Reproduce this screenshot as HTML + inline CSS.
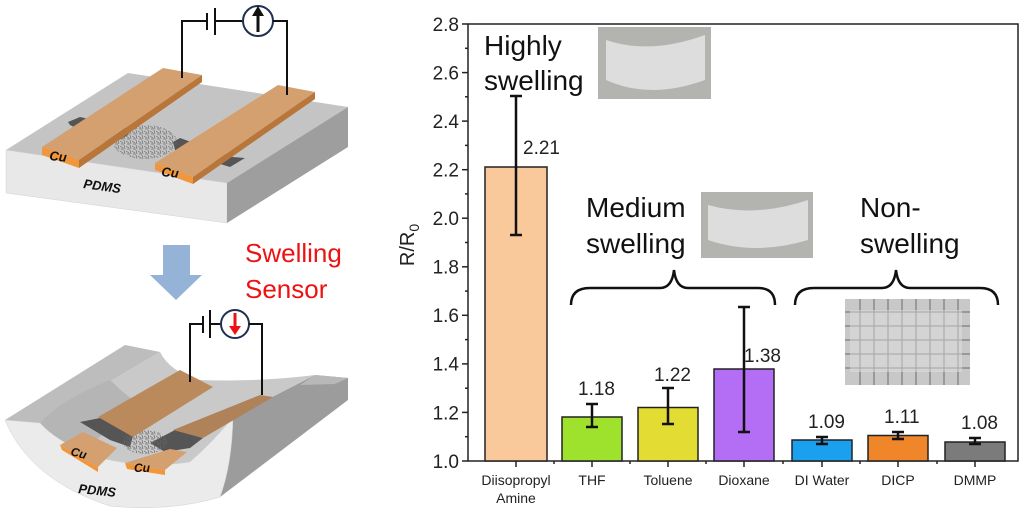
<!DOCTYPE html>
<html><head><meta charset="utf-8"><style>
html,body{margin:0;padding:0;background:#fff;}
body{width:1024px;height:513px;overflow:hidden;position:relative;font-family:"Liberation Sans",sans-serif;}
</style></head><body>
<svg width="1024" height="513" viewBox="0 0 1024 513" xmlns="http://www.w3.org/2000/svg" font-family="Liberation Sans, sans-serif">
<defs>
<pattern id="nw" width="6" height="5" patternUnits="userSpaceOnUse">
<path d="M0,1 L3,3 M4,0 L5,4 M1,4 L4,4" stroke="#666" stroke-width="0.7"/>
</pattern>
</defs>
<!-- TOP SLAB -->
<polygon points="6,150 128,73 348,107 227,183" fill="#c4c4c4"/>
<polygon points="6,150 227,183 227,223 6,193" fill="#e8e8e8" stroke="#d0d0d0" stroke-width="0.5"/>
<polygon points="227,183 348,107 348,147 227,223" fill="#9e9e9e"/>
<!-- electrodes dark -->
<polygon points="68,122 80,117 125,127 128,135 110,145 100,140 70,125" fill="#555"/>
<polygon points="173,142 180,138 233,157 245,158 230,167 175,150" fill="#555"/>
<!-- nanowires -->
<ellipse cx="145" cy="142" rx="32" ry="17" fill="url(#nw)" opacity="0.9"/>
<!-- copper strips -->
<polygon points="42,147 163,68 202,75 79,160" fill="#d4a070"/>
<polygon points="42,147 79,160 79,168 42,155" fill="#f0963c"/>
<polygon points="79,160 202,75 202,82 79,168" fill="#b9763a"/>
<polygon points="155,163 278,85 315,92 193,177" fill="#d4a070"/>
<polygon points="155,163 193,177 193,184 155,170" fill="#f0963c"/>
<polygon points="193,177 315,92 315,99 193,184" fill="#b9763a"/>
<text x="49" y="160" font-size="13" font-weight="bold" font-style="italic" fill="#111" transform="rotate(6 49 160)">Cu</text>
<text x="161" y="176" font-size="13" font-weight="bold" font-style="italic" fill="#111" transform="rotate(6 161 176)">Cu</text>
<text x="83" y="188" font-size="13" font-weight="bold" font-style="italic" fill="#111" transform="rotate(8 83 188)">PDMS</text>
<!-- top circuit -->
<polyline points="182,78 182,21 207,21" fill="none" stroke="#111" stroke-width="2"/>
<line x1="207" y1="13" x2="207" y2="30" stroke="#111" stroke-width="2"/>
<line x1="215" y1="8" x2="215" y2="35" stroke="#111" stroke-width="2"/>
<polyline points="215,21 243,21" fill="none" stroke="#111" stroke-width="2"/>
<circle cx="258" cy="21" r="15" fill="#fff" stroke="#1f3050" stroke-width="2"/>
<polyline points="273,21 287,21 287,95" fill="none" stroke="#111" stroke-width="2"/>
<line x1="258" y1="32" x2="258" y2="14" stroke="#111" stroke-width="3"/>
<polygon points="252,16 264,16 258,6" fill="#111"/>
<!-- arrow -->
<polygon points="163,245 190,245 190,275 202,275 176,300 150,275 163,275" fill="#95b3d7"/>
<text x="245" y="262" font-size="26" fill="#ee1111">Swelling</text>
<text x="245" y="298" font-size="26" fill="#ee1111">Sensor</text>
<!-- BOTTOM CURVED -->
<!-- right side dark face -->
<polygon points="233,417 315,375 348,378 348,400 220,497" fill="#9c9c9c"/>
<polygon points="315,375 348,378 335,384 300,385" fill="#b8b8b8"/>
<!-- left rim -->
<polygon points="5,420 125,345 160,352 40,423" fill="#bdbdbd"/>
<!-- trough -->
<path d="M40,423 L160,352 Q170,372 200,380 Q260,382 315,375 L233,417 Q215,440 190,462 Q140,470 90,455 Q55,440 40,423 Z" fill="#c9c9c9"/>
<path d="M40,423 Q60,400 110,380 Q130,400 150,410 Q100,430 85,452 Q55,440 40,423 Z" fill="#b5b5b5"/>
<!-- front face -->
<path d="M5,420 L40,423 Q55,440 90,455 Q140,470 190,462 Q215,440 233,417 Q232,465 220,497 Q170,512 110,506 Q30,480 5,420 Z" fill="#ebebeb" stroke="#d0d0d0" stroke-width="0.5"/>
<!-- bottom electrodes -->
<polygon points="80,422 100,418 133,436 130,447 110,440" fill="#555"/>
<polygon points="150,443 175,430 203,438 190,448 165,452" fill="#555"/>
<ellipse cx="145" cy="442" rx="22" ry="12" fill="url(#nw)"/>
<polygon points="98,417 180,370 213,387 133,437" fill="#ba8a5c"/>
<polygon points="173,430 260,395 273,397 203,438" fill="#b0825a"/>
<polygon points="60,445 83,432 117,448 98,467" fill="#d4a070"/>
<polygon points="60,445 98,467 98,472 62,450" fill="#f0963c"/>
<polygon points="125,463 170,449 187,452 165,470" fill="#d4a070"/>
<polygon points="125,463 165,470 165,475 127,469" fill="#f0963c"/>
<text x="70" y="455" font-size="12" font-weight="bold" font-style="italic" fill="#111" transform="rotate(15 70 455)">Cu</text>
<text x="134" y="472" font-size="12" font-weight="bold" font-style="italic" fill="#111">Cu</text>
<text x="78" y="493" font-size="13" font-weight="bold" font-style="italic" fill="#111" transform="rotate(6 78 493)">PDMS</text>
<!-- bottom circuit -->
<polyline points="190,382 190,324 203,324" fill="none" stroke="#111" stroke-width="2"/>
<line x1="203" y1="316" x2="203" y2="333" stroke="#111" stroke-width="2"/>
<line x1="210" y1="310" x2="210" y2="338" stroke="#111" stroke-width="2"/>
<polyline points="210,324 221,324" fill="none" stroke="#111" stroke-width="2"/>
<circle cx="235" cy="324" r="14" fill="#fff" stroke="#1f3050" stroke-width="2"/>
<polyline points="249,324 262,324 262,395" fill="none" stroke="#111" stroke-width="2"/>
<line x1="235" y1="313" x2="235" y2="328" stroke="#ee1111" stroke-width="3"/>
<polygon points="229,326 241,326 235,335" fill="#ee1111"/>

<!-- CHART -->
<rect x="468" y="24" width="550" height="437" fill="none" stroke="#222" stroke-width="1.5"/>
<g stroke="#222" stroke-width="1.5">
<line x1="462" y1="461" x2="468" y2="461"/><line x1="462" y1="412.4" x2="468" y2="412.4"/><line x1="462" y1="363.9" x2="468" y2="363.9"/><line x1="462" y1="315.3" x2="468" y2="315.3"/><line x1="462" y1="266.8" x2="468" y2="266.8"/><line x1="462" y1="218.2" x2="468" y2="218.2"/><line x1="462" y1="169.7" x2="468" y2="169.7"/><line x1="462" y1="121.1" x2="468" y2="121.1"/><line x1="462" y1="72.6" x2="468" y2="72.6"/><line x1="462" y1="24" x2="468" y2="24"/>
<line x1="465" y1="436.7" x2="468" y2="436.7"/><line x1="465" y1="388.2" x2="468" y2="388.2"/><line x1="465" y1="339.6" x2="468" y2="339.6"/><line x1="465" y1="291.1" x2="468" y2="291.1"/><line x1="465" y1="242.5" x2="468" y2="242.5"/><line x1="465" y1="193.9" x2="468" y2="193.9"/><line x1="465" y1="145.4" x2="468" y2="145.4"/><line x1="465" y1="96.8" x2="468" y2="96.8"/><line x1="465" y1="48.3" x2="468" y2="48.3"/>
<line x1="516" y1="461" x2="516" y2="467"/><line x1="592" y1="461" x2="592" y2="467"/><line x1="668" y1="461" x2="668" y2="467"/><line x1="744" y1="461" x2="744" y2="467"/><line x1="822" y1="461" x2="822" y2="467"/><line x1="898" y1="461" x2="898" y2="467"/><line x1="975" y1="461" x2="975" y2="467"/>
<line x1="554" y1="461" x2="554" y2="464"/><line x1="630" y1="461" x2="630" y2="464"/><line x1="706" y1="461" x2="706" y2="464"/><line x1="783" y1="461" x2="783" y2="464"/><line x1="860" y1="461" x2="860" y2="464"/><line x1="937" y1="461" x2="937" y2="464"/>
</g>
<g font-size="19" fill="#222" text-anchor="end">
<text x="459" y="468">1.0</text><text x="459" y="419.4">1.2</text><text x="459" y="370.3">1.4</text><text x="459" y="322">1.6</text><text x="459" y="273.5">1.8</text><text x="459" y="225">2.0</text><text x="459" y="176.5">2.2</text><text x="459" y="128">2.4</text><text x="459" y="79.5">2.6</text><text x="459" y="31">2.8</text>
</g>
<text x="414" y="245" font-size="20" fill="#222" transform="rotate(-90 414 245)" text-anchor="middle">R/R<tspan font-size="14" dy="5">0</tspan></text>
<!-- bars -->
<g stroke="#222" stroke-width="1.5">
<rect x="485" y="167" width="62" height="294" fill="#f9c89b"/>
<rect x="562" y="417" width="60" height="44" fill="#9fe22e"/>
<rect x="638" y="407.5" width="60" height="53.5" fill="#e3dc33"/>
<rect x="714" y="369" width="60" height="92" fill="#b46ef5"/>
<rect x="792" y="440" width="60" height="21" fill="#1ba0f0"/>
<rect x="868" y="435.5" width="60" height="25.5" fill="#f0862a"/>
<rect x="945" y="442" width="60" height="19" fill="#7b7b7b"/>
</g>
<g stroke="#111" stroke-width="2.5">
<line x1="516" y1="96" x2="516" y2="235"/><line x1="510" y1="96" x2="522" y2="96"/><line x1="510" y1="235" x2="522" y2="235"/>
<line x1="592" y1="404" x2="592" y2="427"/><line x1="586" y1="404" x2="598" y2="404"/><line x1="586" y1="427" x2="598" y2="427"/>
<line x1="668" y1="388" x2="668" y2="424"/><line x1="662" y1="388" x2="674" y2="388"/><line x1="662" y1="424" x2="674" y2="424"/>
<line x1="744" y1="307" x2="744" y2="432"/><line x1="738" y1="307" x2="750" y2="307"/><line x1="738" y1="432" x2="750" y2="432"/>
<line x1="822" y1="437" x2="822" y2="444"/><line x1="816" y1="437" x2="828" y2="437"/><line x1="816" y1="444" x2="828" y2="444"/>
<line x1="898" y1="432" x2="898" y2="439"/><line x1="892" y1="432" x2="904" y2="432"/><line x1="892" y1="439" x2="904" y2="439"/>
<line x1="975" y1="438" x2="975" y2="444"/><line x1="969" y1="438" x2="981" y2="438"/><line x1="969" y1="444" x2="981" y2="444"/>
</g>
<g font-size="19" fill="#222">
<text x="523" y="154">2.21</text><text x="578" y="395">1.18</text><text x="654" y="381">1.22</text><text x="744" y="362">1.38</text>
<text x="808" y="428">1.09</text><text x="884" y="423">1.11</text><text x="961" y="429">1.08</text>
</g>
<g font-size="14" fill="#222" text-anchor="middle">
<text x="516" y="485">Diisopropyl</text><text x="516" y="503">Amine</text>
<text x="592" y="485">THF</text><text x="668" y="485">Toluene</text><text x="744" y="485">Dioxane</text>
<text x="822" y="485">DI Water</text><text x="898" y="485">DICP</text><text x="975" y="485">DMMP</text>
</g>
<!-- photos -->
<rect x="598" y="27" width="113" height="72" fill="#b3b3b0"/>
<path d="M606,40 Q650,55 705,35 L705,80 Q650,100 606,80 Z" fill="#ddd"/>
<rect x="701" y="192" width="112" height="66" fill="#b3b3b0"/>
<path d="M708,205 Q755,218 808,200 L808,240 Q755,256 708,240 Z" fill="#ddd"/>
<rect x="845" y="299" width="125" height="86" fill="#c8c8c8"/>
<g stroke="#6a6a6a" stroke-width="1">
<line x1="845" y1="312" x2="970" y2="312"/><line x1="845" y1="326" x2="970" y2="326"/><line x1="845" y1="340" x2="970" y2="340"/><line x1="845" y1="354" x2="970" y2="354"/><line x1="845" y1="368" x2="970" y2="368"/>
<line x1="860" y1="299" x2="860" y2="385"/><line x1="874" y1="299" x2="874" y2="385"/><line x1="888" y1="299" x2="888" y2="385"/><line x1="902" y1="299" x2="902" y2="385"/><line x1="916" y1="299" x2="916" y2="385"/><line x1="930" y1="299" x2="930" y2="385"/><line x1="944" y1="299" x2="944" y2="385"/><line x1="958" y1="299" x2="958" y2="385"/>
</g>
<rect x="850" y="310" width="112" height="62" fill="#e0e0e0" opacity="0.5"/>
<!-- annotations -->
<g font-size="28" fill="#111">
<text x="484" y="55">Highly</text><text x="484" y="90">swelling</text>
<text x="586" y="217">Medium</text><text x="586" y="253">swelling</text>
<text x="860" y="217">Non-</text><text x="860" y="253">swelling</text>
</g>
<g fill="none" stroke="#111" stroke-width="2.5">
<path d="M571,305 Q571,288 590,288 L660,288 Q672,288 674,270 Q676,288 688,288 L758,288 Q775,288 775,305"/>
<path d="M795,305 Q795,288 814,288 L882,288 Q894,288 896,270 Q898,288 910,288 L980,288 Q998,288 998,305"/>
</g>
</svg>
</body></html>
